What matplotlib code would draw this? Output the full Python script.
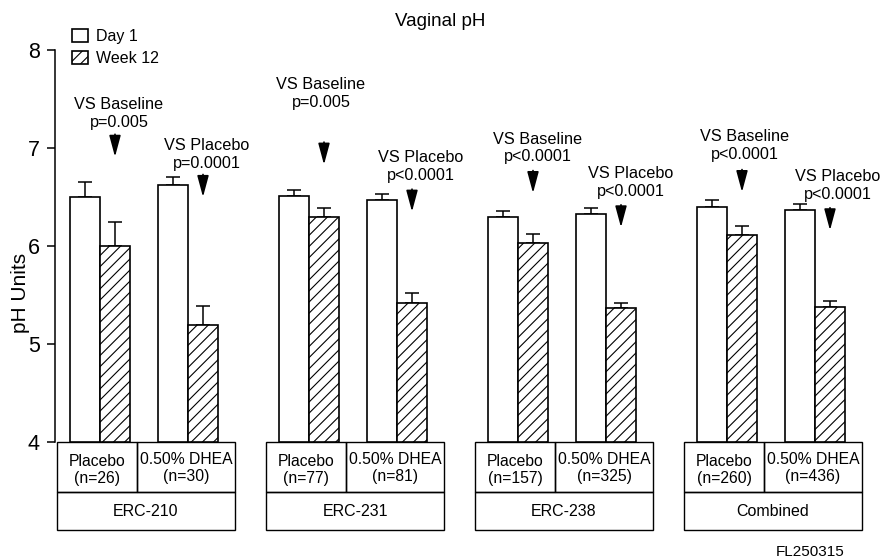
import matplotlib.pyplot as plt
from matplotlib.patches import Rectangle

plt.rcParams['font.family'] = ['Liberation Sans', 'DejaVu Sans']
plt.rcParams['hatch.linewidth'] = 0.8

# data
studies = ['ERC-210', 'ERC-231', 'ERC-238', 'Combined']
n_placebo = [26, 77, 157, 260]
n_dhea = [30, 81, 325, 436]

placebo_day1 = [6.50, 6.51, 6.30, 6.40]
placebo_day1_err = [0.15, 0.06, 0.06, 0.07]
placebo_wk12 = [6.00, 6.30, 6.03, 6.11]
placebo_wk12_err = [0.24, 0.09, 0.09, 0.09]
dhea_day1 = [6.62, 6.47, 6.33, 6.37]
dhea_day1_err = [0.08, 0.06, 0.06, 0.06]
dhea_wk12 = [5.19, 5.42, 5.37, 5.38]
dhea_wk12_err = [0.20, 0.10, 0.05, 0.06]

p_baseline = ['p=0.005', 'p=0.005', 'p<0.0001', 'p<0.0001']
p_placebo = ['p=0.0001', 'p<0.0001', 'p<0.0001', 'p<0.0001']

# layout (x units = pixels)
W, H = 883, 559
group_centers = [146 + 209 * i for i in range(4)]
bw = 30
placebo_off = -76
dhea_off = 12
arrow_tip_base = [6.91, 6.83, 6.54, 6.55]
arrow_tip_plac = [6.50, 6.35, 6.19, 6.16]
text_base = [(4, 7.35), (-3, 7.56), (5, 7.00), (3, 7.03)]
text_plac = [(4, 6.93), (9, 6.81), (10, 6.65), (8, 6.62)]

fig = plt.figure(figsize=(W / 100, H / 100), dpi=100)
y_bot = (H - 442) / H
y_top = (H - 50) / H
ax = fig.add_axes([55 / W, y_bot, 1 - 55 / W, y_top - y_bot])
ax.set_xlim(55, W)
ax.set_ylim(4, 8)

bar_kw = dict(width=bw, align='edge', edgecolor='black', linewidth=1.2, zorder=2)
err_kw = dict(fmt='none', ecolor='black', elinewidth=1.1, capsize=5, capthick=1.1, zorder=1)

for i, c in enumerate(group_centers):
    xs = [c + placebo_off, c + placebo_off + bw, c + dhea_off, c + dhea_off + bw]
    vals = [placebo_day1[i], placebo_wk12[i], dhea_day1[i], dhea_wk12[i]]
    errs = [placebo_day1_err[i], placebo_wk12_err[i], dhea_day1_err[i], dhea_wk12_err[i]]
    for j in range(4):
        hatch = '///' if j % 2 else None
        lab = None
        if i == 0 and j < 2:
            lab = 'Week 12' if j else 'Day 1'
        ax.bar(xs[j], vals[j] - 4, bottom=4, color='white', hatch=hatch, label=lab, **bar_kw)
        ax.errorbar(xs[j] + bw / 2, vals[j], yerr=[[0], [errs[j]]], **err_kw)

    # significance arrows
    ax_b = xs[1] + bw / 2
    ax_p = xs[3] + bw / 2
    for ax_x, tip, (dx, ty), ptxt in [(ax_b, arrow_tip_base[i], text_base[i], 'VS Baseline\n' + p_baseline[i]),
                                      (ax_p, arrow_tip_plac[i], text_plac[i], 'VS Placebo\n' + p_placebo[i])]:
        ax.annotate('', xy=(ax_x, tip), xytext=(ax_x, tip + 0.23),
                    arrowprops=dict(arrowstyle='-|>,head_length=1.3,head_width=0.35',
                                    color='black', lw=1.2, shrinkA=0, shrinkB=0))
        ax.text(ax_x + dx, ty, ptxt, ha='center', va='center', fontsize=11.7, linespacing=1.25)

    # table below the axis
    left = c - 89
    mid = c - 9
    right = c + 89
    y1 = 4 - 50 / 98
    y2 = 4 - 88 / 98
    for (x0, x1, ya, yb) in [(left, mid, y1, 4), (mid, right, y1, 4), (left, right, y2, y1)]:
        ax.add_patch(Rectangle((x0, ya), x1 - x0, yb - ya, fill=False, edgecolor='black',
                               linewidth=1.0, clip_on=False))
    ax.text((left + mid) / 2, 4 - 28 / 98, f'Placebo\n(n={n_placebo[i]})',
            ha='center', va='center', fontsize=11.3, linespacing=1.2)
    ax.text((mid + right) / 2, 4 - 26 / 98, f'0.50% DHEA\n(n={n_dhea[i]})',
            ha='center', va='center', fontsize=11.3, linespacing=1.2)
    ax.text(c, (y1 + y2) / 2, studies[i], ha='center', va='center', fontsize=11.5)

ax.set_yticks([4, 5, 6, 7, 8])
ax.tick_params(axis='y', length=6, width=1.1, pad=5, labelsize=15.5)
ax.tick_params(axis='x', bottom=False, labelbottom=False)
for s in ['top', 'right', 'bottom']:
    ax.spines[s].set_visible(False)
ax.spines['left'].set_linewidth(1.1)

ax.legend(loc='upper left', bbox_to_anchor=(72 / W, 1 - 29 / H), bbox_transform=fig.transFigure,
          frameon=False, fontsize=11.5, handlelength=1.0, handleheight=0.9, handletextpad=0.5,
          labelspacing=0.4, borderpad=0, borderaxespad=0)

fig.text(440 / W, 1 - 22 / H, 'Vaginal pH', ha='center', va='center', fontsize=13.5)
fig.text(20 / W, 1 - 293 / H, 'pH Units', ha='center', va='center', rotation=90, fontsize=15)
fig.text(810 / W, 1 - 552 / H, 'FL250315', ha='center', va='center', fontsize=11)

plt.savefig('out.png', dpi=100)
